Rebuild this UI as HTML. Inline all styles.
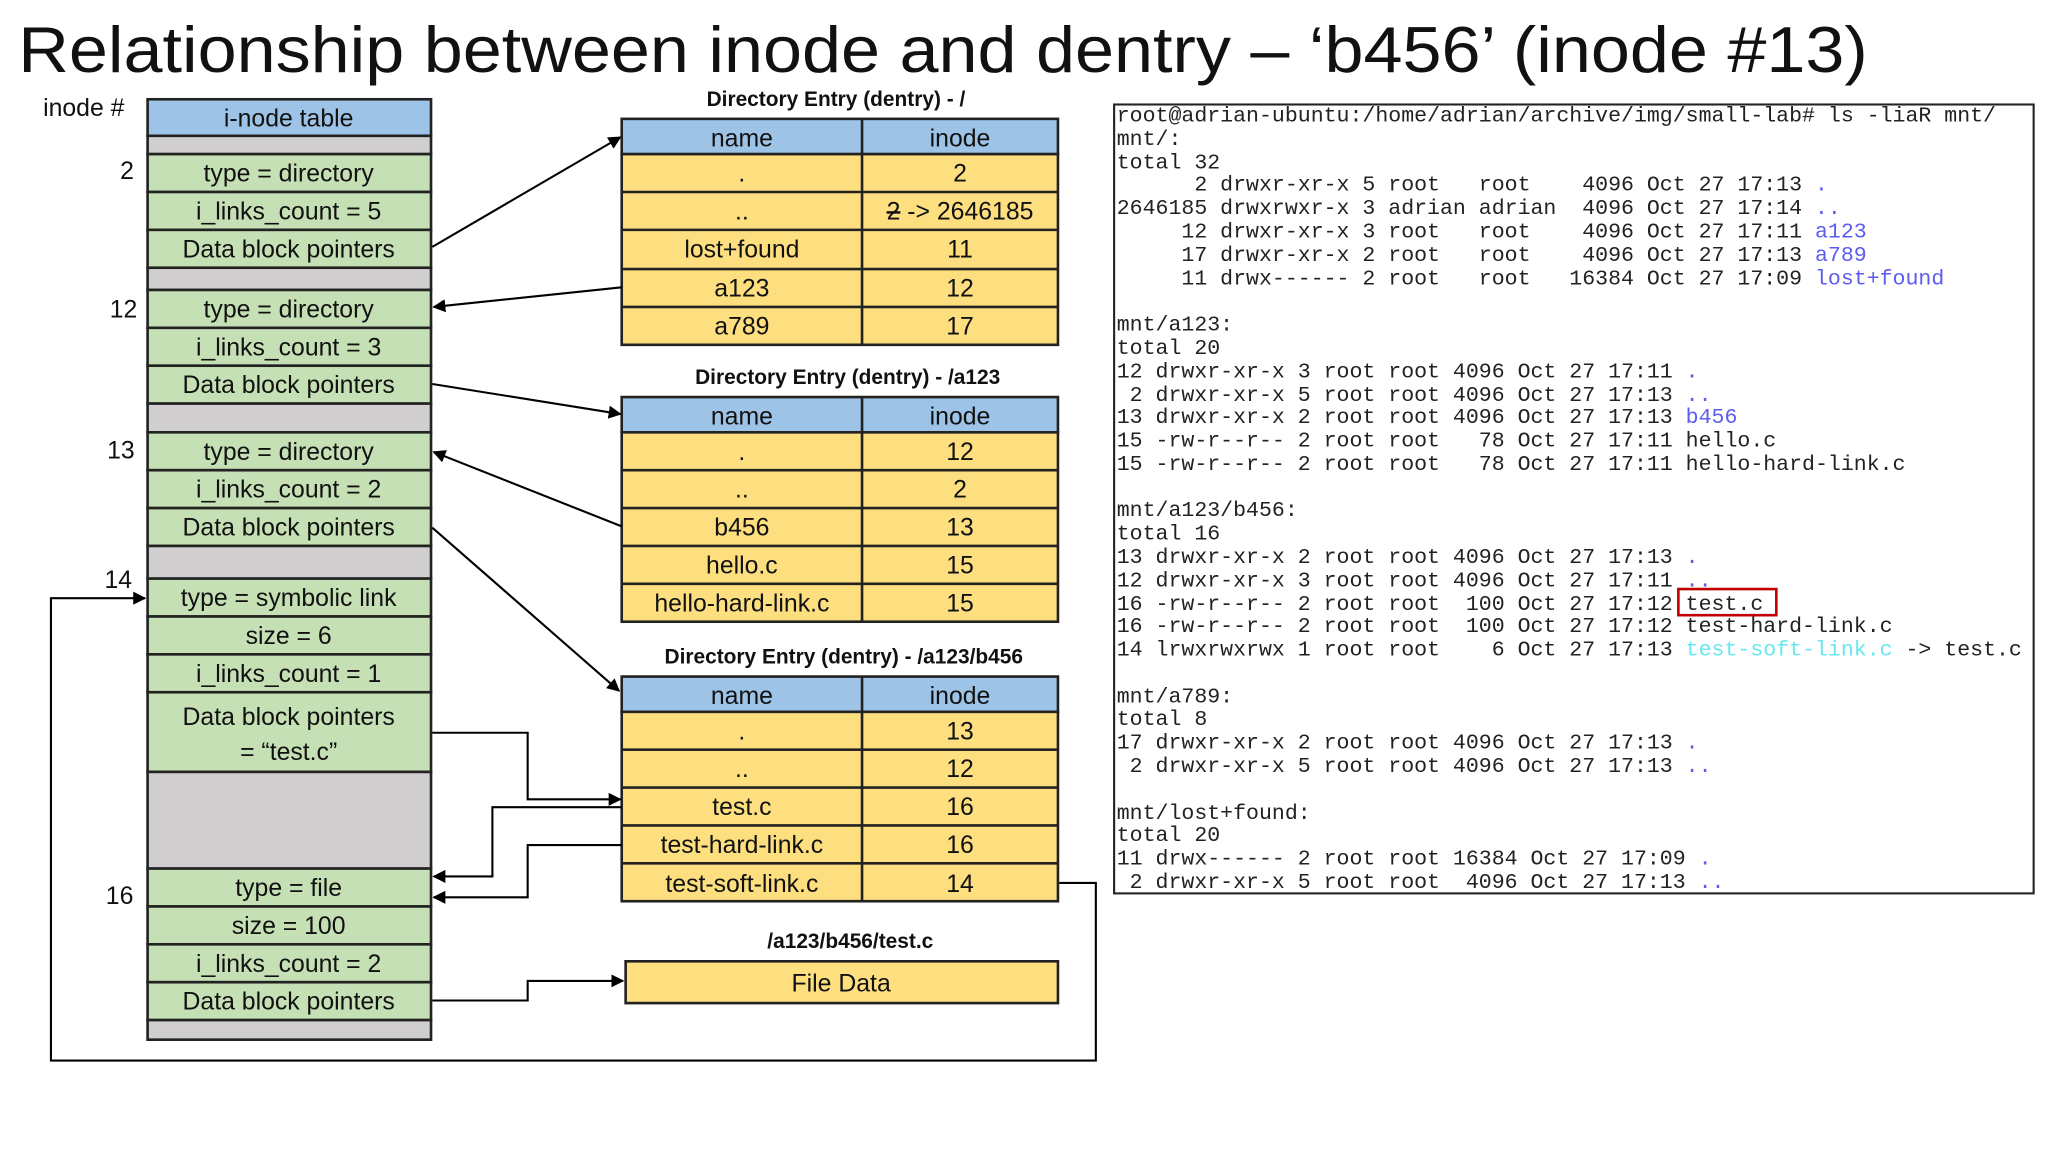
<!DOCTYPE html>
<html><head><meta charset="utf-8"><style>
html,body{margin:0;padding:0;background:#fff;}
svg{display:block;}
.c{font-family:"Liberation Sans",sans-serif;font-size:19px;fill:#111;text-anchor:middle;}
.t{font-family:"Liberation Sans",sans-serif;font-size:16px;font-weight:bold;fill:#111;text-anchor:middle;}
.m{font-family:"Liberation Mono",monospace;font-size:16.5px;fill:#222;}
.b{fill:#5c5cf0;} .cy{fill:#66e8ee;}
.ln{stroke:#000;stroke-width:1.6;fill:none;}
</style></head><body>
<svg width="2048" height="1152" viewBox="0 0 1568 882" preserveAspectRatio="none" xmlns="http://www.w3.org/2000/svg">
<defs><marker id="a" markerWidth="10" markerHeight="10" refX="9" refY="5" orient="auto" markerUnits="userSpaceOnUse"><path d="M0,0 L10,5 L0,10 z" fill="#000"/></marker></defs>
<text x="14" y="55" font-family="Liberation Sans,sans-serif" font-size="50" fill="#111" textLength="1416" lengthAdjust="spacingAndGlyphs">Relationship between inode and dentry – ‘b456’ (inode #13)</text>

<g font-family="Liberation Sans,sans-serif" font-size="19" fill="#111">
<text x="33" y="89">inode #</text>
<text x="92" y="137">2</text>
<text x="84" y="243">12</text>
<text x="82" y="351">13</text>
<text x="80" y="450">14</text>
<text x="81" y="692">16</text>
</g>

<g stroke="#222" stroke-width="2">
<rect x="113" y="76" width="217" height="28" fill="#9dc3e6"/>
<rect x="113" y="104" width="217" height="14" fill="#d0cece"/>
<rect x="113" y="118" width="217" height="29" fill="#c5e0b4"/>
<rect x="113" y="147" width="217" height="29" fill="#c5e0b4"/>
<rect x="113" y="176" width="217" height="29" fill="#c5e0b4"/>
<rect x="113" y="205" width="217" height="17" fill="#d0cece"/>
<rect x="113" y="222" width="217" height="29" fill="#c5e0b4"/>
<rect x="113" y="251" width="217" height="29" fill="#c5e0b4"/>
<rect x="113" y="280" width="217" height="29" fill="#c5e0b4"/>
<rect x="113" y="309" width="217" height="22" fill="#d0cece"/>
<rect x="113" y="331" width="217" height="29" fill="#c5e0b4"/>
<rect x="113" y="360" width="217" height="29" fill="#c5e0b4"/>
<rect x="113" y="389" width="217" height="29" fill="#c5e0b4"/>
<rect x="113" y="418" width="217" height="25" fill="#d0cece"/>
<rect x="113" y="443" width="217" height="29" fill="#c5e0b4"/>
<rect x="113" y="472" width="217" height="29" fill="#c5e0b4"/>
<rect x="113" y="501" width="217" height="29" fill="#c5e0b4"/>
<rect x="113" y="530" width="217" height="61" fill="#c5e0b4"/>
<rect x="113" y="591" width="217" height="74" fill="#d0cece"/>
<rect x="113" y="665" width="217" height="29" fill="#c5e0b4"/>
<rect x="113" y="694" width="217" height="29" fill="#c5e0b4"/>
<rect x="113" y="723" width="217" height="29" fill="#c5e0b4"/>
<rect x="113" y="752" width="217" height="29" fill="#c5e0b4"/>
<rect x="113" y="781" width="217" height="15" fill="#d0cece"/>
</g>
<g class="c">
<text x="221" y="97">i-node table</text>
<text x="221" y="139">type = directory</text>
<text x="221" y="168">i_links_count = 5</text>
<text x="221" y="197">Data block pointers</text>
<text x="221" y="243">type = directory</text>
<text x="221" y="272">i_links_count = 3</text>
<text x="221" y="301">Data block pointers</text>
<text x="221" y="352">type = directory</text>
<text x="221" y="381">i_links_count = 2</text>
<text x="221" y="410">Data block pointers</text>
<text x="221" y="464">type = symbolic link</text>
<text x="221" y="493">size = 6</text>
<text x="221" y="522">i_links_count = 1</text>
<text x="221" y="555">Data block pointers</text>
<text x="221" y="582">= “test.c”</text>
<text x="221" y="686">type = file</text>
<text x="221" y="715">size = 100</text>
<text x="221" y="744">i_links_count = 2</text>
<text x="221" y="773">Data block pointers</text>
</g>

<g stroke="#222" stroke-width="2">
<rect x="476" y="91" width="334" height="27" fill="#9dc3e6"/>
<rect x="476" y="118" width="334" height="146" fill="#fddf80"/>
<path d="M476 147H810M476 176H810M476 206H810M476 235H810M660 91V264"/>
<rect x="476" y="304" width="334" height="27" fill="#9dc3e6"/>
<rect x="476" y="331" width="334" height="145" fill="#fddf80"/>
<path d="M476 360H810M476 389H810M476 418H810M476 447H810M660 304V476"/>
<rect x="476" y="518" width="334" height="27" fill="#9dc3e6"/>
<rect x="476" y="545" width="334" height="145" fill="#fddf80"/>
<path d="M476 574H810M476 603H810M476 632H810M476 661H810M660 518V690"/>
<rect x="479" y="736" width="331" height="32" fill="#fddf80"/>
</g>
<g class="t">
<text x="640" y="81">Directory Entry (dentry) - /</text>
<text x="649" y="294">Directory Entry (dentry) - /a123</text>
<text x="646" y="508">Directory Entry (dentry) - /a123/b456</text>
<text x="651" y="726">/a123/b456/test.c</text>
</g>
<g class="c">
<text x="568" y="112">name</text><text x="735" y="112">inode</text>
<text x="568" y="139">.</text><text x="735" y="139">2</text>
<text x="568" y="168">..</text><text x="735" y="168"><tspan text-decoration="line-through">2</tspan> -&gt; 2646185</text>
<text x="568" y="197">lost+found</text><text x="735" y="197">11</text>
<text x="568" y="227">a123</text><text x="735" y="227">12</text>
<text x="568" y="256">a789</text><text x="735" y="256">17</text>

<text x="568" y="325">name</text><text x="735" y="325">inode</text>
<text x="568" y="352">.</text><text x="735" y="352">12</text>
<text x="568" y="381">..</text><text x="735" y="381">2</text>
<text x="568" y="410">b456</text><text x="735" y="410">13</text>
<text x="568" y="439">hello.c</text><text x="735" y="439">15</text>
<text x="568" y="468">hello-hard-link.c</text><text x="735" y="468">15</text>

<text x="568" y="539">name</text><text x="735" y="539">inode</text>
<text x="568" y="566">.</text><text x="735" y="566">13</text>
<text x="568" y="595">..</text><text x="735" y="595">12</text>
<text x="568" y="624">test.c</text><text x="735" y="624">16</text>
<text x="568" y="653">test-hard-link.c</text><text x="735" y="653">16</text>
<text x="568" y="683">test-soft-link.c</text><text x="735" y="683">14</text>
<text x="644" y="759">File Data</text>
</g>

<g class="ln" marker-end="url(#a)">
<path d="M331 189 L475 105"/>
<path d="M476 220 L332 235"/>
<path d="M331 294 L475 317"/>
<path d="M476 403 L332 346"/>
<path d="M331 404 L474 529"/>
<path d="M331 561 H404 V612 H475"/>
<path d="M476 618 H377 V671 H332"/>
<path d="M476 647 H404 V687 H332"/>
<path d="M331 766 H404 V751 H477"/>
<path d="M811 676 H839 V812 H39 V458 H111"/>
</g>

<rect x="853" y="80" width="704" height="604" fill="#fff" stroke="#222" stroke-width="1.6"/>
<g class="m">
<text x="855" y="93">root@adrian-ubuntu:/home/adrian/archive/img/small-lab#&#160;ls&#160;-liaR&#160;mnt/</text>
<text x="855" y="111">mnt/:</text>
<text x="855" y="129">total&#160;32</text>
<text x="855" y="146">&#160;&#160;&#160;&#160;&#160;&#160;2&#160;drwxr-xr-x&#160;5&#160;root&#160;&#160;&#160;root&#160;&#160;&#160;&#160;4096&#160;Oct&#160;27&#160;17:13&#160;<tspan class="b">.</tspan></text>
<text x="855" y="164">2646185&#160;drwxrwxr-x&#160;3&#160;adrian&#160;adrian&#160;&#160;4096&#160;Oct&#160;27&#160;17:14&#160;<tspan class="b">..</tspan></text>
<text x="855" y="182">&#160;&#160;&#160;&#160;&#160;12&#160;drwxr-xr-x&#160;3&#160;root&#160;&#160;&#160;root&#160;&#160;&#160;&#160;4096&#160;Oct&#160;27&#160;17:11&#160;<tspan class="b">a123</tspan></text>
<text x="855" y="200">&#160;&#160;&#160;&#160;&#160;17&#160;drwxr-xr-x&#160;2&#160;root&#160;&#160;&#160;root&#160;&#160;&#160;&#160;4096&#160;Oct&#160;27&#160;17:13&#160;<tspan class="b">a789</tspan></text>
<text x="855" y="218">&#160;&#160;&#160;&#160;&#160;11&#160;drwx------&#160;2&#160;root&#160;&#160;&#160;root&#160;&#160;&#160;16384&#160;Oct&#160;27&#160;17:09&#160;<tspan class="b">lost+found</tspan></text>
<text x="855" y="253">mnt/a123:</text>
<text x="855" y="271">total&#160;20</text>
<text x="855" y="289">12&#160;drwxr-xr-x&#160;3&#160;root&#160;root&#160;4096&#160;Oct&#160;27&#160;17:11&#160;<tspan class="b">.</tspan></text>
<text x="855" y="307">&#160;2&#160;drwxr-xr-x&#160;5&#160;root&#160;root&#160;4096&#160;Oct&#160;27&#160;17:13&#160;<tspan class="b">..</tspan></text>
<text x="855" y="324">13&#160;drwxr-xr-x&#160;2&#160;root&#160;root&#160;4096&#160;Oct&#160;27&#160;17:13&#160;<tspan class="b">b456</tspan></text>
<text x="855" y="342">15&#160;-rw-r--r--&#160;2&#160;root&#160;root&#160;&#160;&#160;78&#160;Oct&#160;27&#160;17:11&#160;hello.c</text>
<text x="855" y="360">15&#160;-rw-r--r--&#160;2&#160;root&#160;root&#160;&#160;&#160;78&#160;Oct&#160;27&#160;17:11&#160;hello-hard-link.c</text>
<text x="855" y="395">mnt/a123/b456:</text>
<text x="855" y="413">total&#160;16</text>
<text x="855" y="431">13&#160;drwxr-xr-x&#160;2&#160;root&#160;root&#160;4096&#160;Oct&#160;27&#160;17:13&#160;<tspan class="b">.</tspan></text>
<text x="855" y="449">12&#160;drwxr-xr-x&#160;3&#160;root&#160;root&#160;4096&#160;Oct&#160;27&#160;17:11&#160;<tspan class="b">..</tspan></text>
<text x="855" y="467">16&#160;-rw-r--r--&#160;2&#160;root&#160;root&#160;&#160;100&#160;Oct&#160;27&#160;17:12&#160;test.c</text>
<text x="855" y="484">16&#160;-rw-r--r--&#160;2&#160;root&#160;root&#160;&#160;100&#160;Oct&#160;27&#160;17:12&#160;test-hard-link.c</text>
<text x="855" y="502">14&#160;lrwxrwxrwx&#160;1&#160;root&#160;root&#160;&#160;&#160;&#160;6&#160;Oct&#160;27&#160;17:13&#160;<tspan class="cy">test-soft-link.c</tspan>&#160;-&gt;&#160;test.c</text>
<text x="855" y="538">mnt/a789:</text>
<text x="855" y="555">total&#160;8</text>
<text x="855" y="573">17&#160;drwxr-xr-x&#160;2&#160;root&#160;root&#160;4096&#160;Oct&#160;27&#160;17:13&#160;<tspan class="b">.</tspan></text>
<text x="855" y="591">&#160;2&#160;drwxr-xr-x&#160;5&#160;root&#160;root&#160;4096&#160;Oct&#160;27&#160;17:13&#160;<tspan class="b">..</tspan></text>
<text x="855" y="627">mnt/lost+found:</text>
<text x="855" y="644">total&#160;20</text>
<text x="855" y="662">11&#160;drwx------&#160;2&#160;root&#160;root&#160;16384&#160;Oct&#160;27&#160;17:09&#160;<tspan class="b">.</tspan></text>
<text x="855" y="680">&#160;2&#160;drwxr-xr-x&#160;5&#160;root&#160;root&#160;&#160;4096&#160;Oct&#160;27&#160;17:13&#160;<tspan class="b">..</tspan></text>
</g>
<rect x="1285" y="451" width="75" height="20" fill="none" stroke="#c00000" stroke-width="2"/>
</svg>
</body></html>
